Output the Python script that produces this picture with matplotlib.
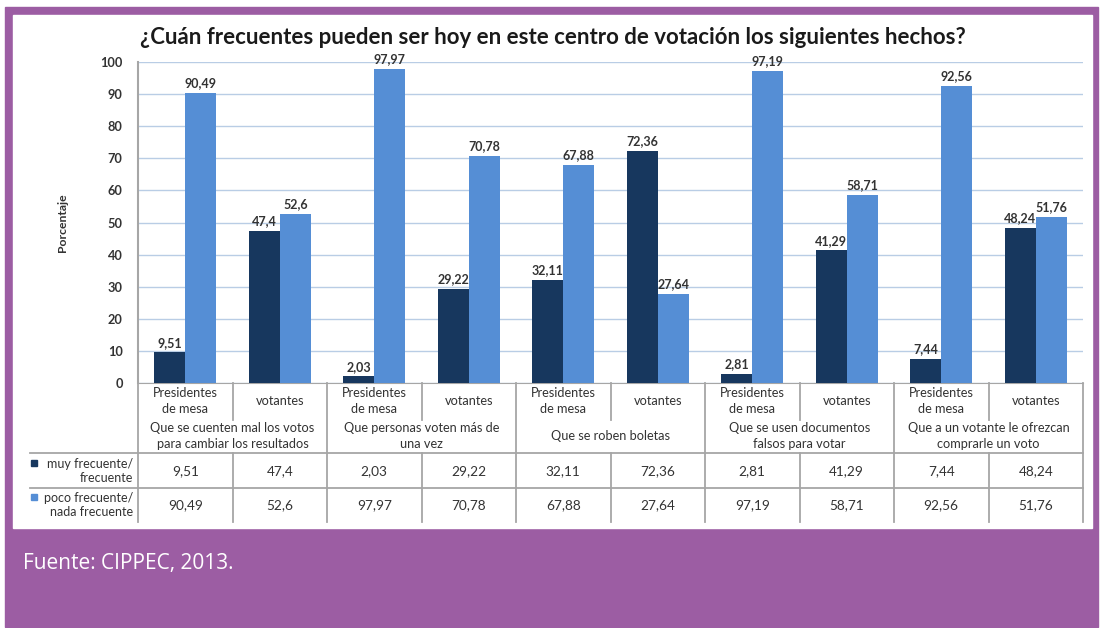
import numpy as np
import matplotlib.pyplot as plt
from matplotlib.patches import Rectangle

# data
grupos = ['Que se cuenten mal los votos\npara cambiar los resultados',
          'Que personas voten más de\nuna vez',
          'Que se roben boletas',
          'Que se usen documentos\nfalsos para votar',
          'Que a un votante le ofrezcan\ncomprarle un voto']
subgrupos = ['Presidentes\nde mesa', 'votantes']
muy_frecuente = [9.51, 47.4, 2.03, 29.22, 32.11, 72.36, 2.81, 41.29, 7.44, 48.24]
poco_frecuente = [90.49, 52.6, 97.97, 70.78, 67.88, 27.64, 97.19, 58.71, 92.56, 51.76]
series_nombres = ['muy frecuente/\nfrecuente', 'poco frecuente/\nnada frecuente']
yticks = list(range(0, 101, 10))

titulo = '¿Cuán frecuentes pueden ser hoy en este centro de votación los siguientes hechos?'
fuente = 'Fuente: CIPPEC, 2013.'

c_dark = '#17375E'
c_light = '#558ED5'
c_purple = '#9C5DA3'
c_grid = '#B9CDE5'
c_line = '#A6A6A6'
c_text = '#333333'
plt.rcParams['font.family'] = ['Lato', 'DejaVu Sans']

W, H = 1104, 628
fig = plt.figure(figsize=(W / 100, H / 100), dpi=100)


def fx(px):
    return px / W


def fy(py):
    return 1 - py / H


# purple frame and white panel
fig.patches.append(Rectangle((fx(5), fy(627)), fx(1098) - fx(5), fy(7) - fy(627),
                             transform=fig.transFigure, color=c_purple, zorder=-5))
fig.patches.append(Rectangle((fx(13), fy(528)), fx(1092) - fx(13), fy(15) - fy(528),
                             transform=fig.transFigure, color='white', zorder=-4))

n = len(muy_frecuente)
x = np.arange(n)
bw = 0.33

ax = fig.add_axes([fx(138), fy(383), fx(1083) - fx(138), fy(62) - fy(383)])
ax.set_facecolor('none')
ax.bar(x - bw / 2, muy_frecuente, bw, color=c_dark, zorder=3)
ax.bar(x + bw / 2, poco_frecuente, bw, color=c_light, zorder=3)
for i in range(n):
    for v, off in ((muy_frecuente[i], -bw / 2), (poco_frecuente[i], bw / 2)):
        ax.text(x[i] + off, v + 1.2, str(v).replace('.', ','), ha='center', va='bottom',
                fontsize=9, color=c_text, fontweight='bold')
ax.set_xlim(-0.5, n - 0.5)
ax.set_ylim(0, 100)
ax.set_yticks(yticks)
ax.tick_params(axis='y', length=0, labelsize=9.2, labelcolor=c_text, pad=11)
for lab in ax.get_yticklabels():
    lab.set_fontweight('bold')
ax.set_xticks([])
ax.grid(axis='y', color=c_grid, lw=1, zorder=0)
for s in ['top', 'right']:
    ax.spines[s].set_visible(False)
ax.spines['left'].set_color(c_line)
ax.spines['left'].set_linewidth(1.5)
ax.spines['bottom'].set_color(c_line)
ax.set_ylabel('Porcentaje', fontsize=8.8, fontweight='bold', color=c_text, labelpad=23)

fig.text(fx(553), fy(38), titulo, ha='center', va='center', fontsize=16,
         fontweight='bold', color='#1a1a1a')

# table below the axes
tb = fig.add_axes([fx(138), fy(522), fx(1083) - fx(138), fy(383) - fy(522)])
tb.set_xlim(-0.5, n - 0.5)
tb.set_ylim(139, 0)
tb.axis('off')
tk = dict(color=c_line, lw=1.3, clip_on=False)
# horizontal rules
x_left = -0.5 - (138 - 30) / 94.5
for yy in (70, 105):
    tb.plot([x_left, n - 0.5], [yy, yy], **tk)
# vertical rules
for b in range(n + 1):
    xb = b - 0.5
    if b % 2 == 0:
        tb.plot([xb, xb], [0, 139], **tk)
    else:
        tb.plot([xb, xb], [0, 37], **tk)
        tb.plot([xb, xb], [70, 139], **tk)

fs = 9.2
for i in range(n):
    sub = subgrupos[i % 2]
    tb.text(x[i], 18, sub, ha='center', va='center', fontsize=fs, color=c_text,
            linespacing=1.45)
    tb.text(x[i], 88, str(muy_frecuente[i]).replace('.', ','), ha='center', va='center',
            fontsize=9.8, color=c_text)
    tb.text(x[i], 122, str(poco_frecuente[i]).replace('.', ','), ha='center', va='center',
            fontsize=9.8, color=c_text)
for g, name in enumerate(grupos):
    tb.text(2 * g + 0.5, 53, name, ha='center', va='center', fontsize=fs, color=c_text,
            linespacing=1.35)

# row labels with legend markers
x_lab = -0.5 - 5 / 94.5
x_mark = -0.5 - (138 - 34) / 94.5
for yy, name, col in ((88, series_nombres[0], c_dark), (122, series_nombres[1], c_light)):
    tb.text(x_lab, yy, name, ha='right', va='center', fontsize=9, color=c_text,
            linespacing=1.2, clip_on=False)
    tb.plot([x_mark], [yy - 8], marker='s', ms=5, color=col, clip_on=False)

fig.text(fx(23), fy(563), fuente, ha='left', va='center', fontsize=15,
         color='white', family=['Open Sans', 'DejaVu Sans'])

fig.savefig('out.png', dpi=100)
